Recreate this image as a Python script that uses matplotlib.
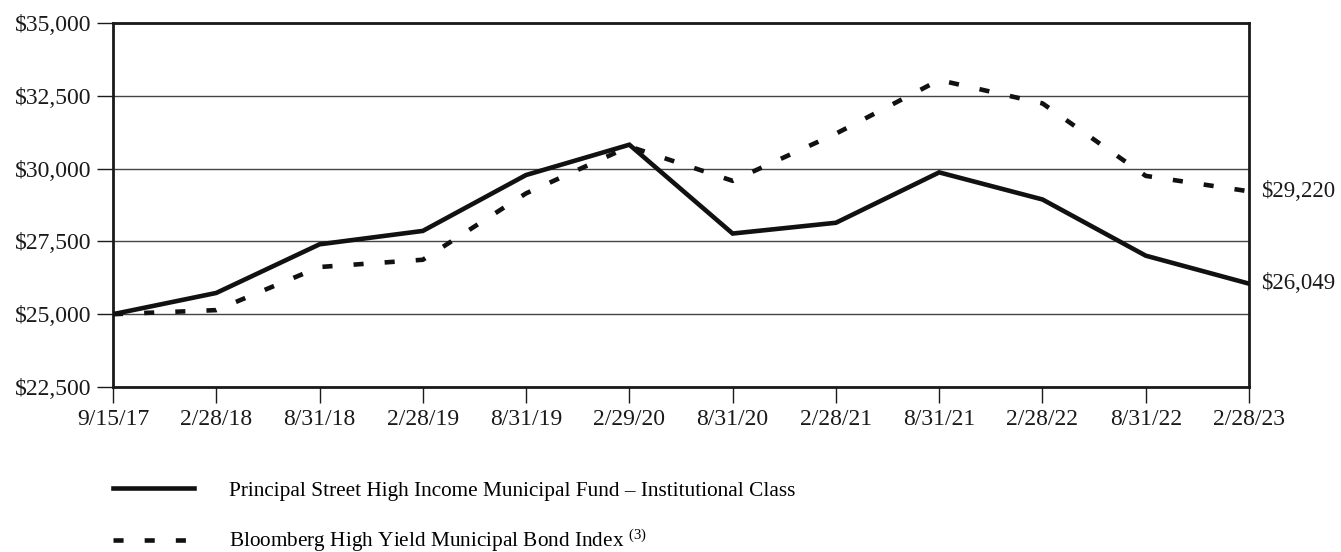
import matplotlib
matplotlib.use("Agg")
import matplotlib.pyplot as plt
from matplotlib.ticker import FuncFormatter

plt.rcParams['font.family'] = ['Liberation Serif', 'DejaVu Serif']
plt.rcParams['mathtext.fontset'] = 'custom'
plt.rcParams['mathtext.rm'] = 'Liberation Serif'
plt.rcParams['mathtext.it'] = 'Liberation Serif:italic'

dates = ["9/15/17", "2/28/18", "8/31/18", "2/28/19", "8/31/19", "2/29/20",
         "8/31/20", "2/28/21", "8/31/21", "2/28/22", "8/31/22", "2/28/23"]
fund = [25000, 25730, 27400, 27860, 29780, 30820,
        27770, 28140, 29870, 28940, 27010, 26049]
index = [25000, 25140, 26620, 26870, 29150, 30760,
         29580, 31200, 33040, 32240, 29750, 29220]
fund_label = "Principal Street High Income Municipal Fund \u2013 Institutional Class"
index_label = "Bloomberg High Yield Municipal Bond Index $^{(3)}$"
y_ticks = [22500, 25000, 27500, 30000, 32500, 35000]

fig = plt.figure(figsize=(13.41, 5.52), dpi=100)
ax = fig.add_axes([113/1341, 1-387/552, (1249-113)/1341, (387-23)/552])

x = list(range(len(dates)))
ax.yaxis.grid(True, color='#444444', linewidth=1.0)
ax.set_axisbelow(True)

l1, = ax.plot(x, fund, color='#111111', linewidth=3.3, solid_joinstyle='miter',
              label=fund_label, zorder=3)
l2, = ax.plot(x, index, color='#111111', linewidth=3.3, linestyle=(0, (2.2, 4.6)),
              dash_capstyle='butt', label=index_label, zorder=3)

ax.set_xlim(0, len(dates) - 1)
ax.set_ylim(y_ticks[0], y_ticks[-1])
ax.set_xticks(x)
ax.set_xticklabels(dates)
ax.set_yticks(y_ticks)
ax.yaxis.set_major_formatter(FuncFormatter(lambda v, p: f"${v:,.0f}"))
ax.tick_params(axis='both', direction='out', length=11.5, width=1.0,
               labelsize=17, color='#1a1a1a', labelcolor='#1a1a1a')
ax.tick_params(axis='x', pad=4)
ax.tick_params(axis='y', pad=4)
for s in ax.spines.values():
    s.set_linewidth(2.0)
    s.set_color('#1a1a1a')

for series in (fund, index):
    ax.annotate(f"${series[-1]:,.0f}", xy=(x[-1], series[-1]), xytext=(9, 0),
                textcoords='offset points', va='center', ha='left',
                fontsize=16.5, color='#1a1a1a', annotation_clip=False)

fig.legend(handles=[l1, l2], loc='upper left', bbox_to_anchor=(113/1341, 1-481/552),
           frameon=False, fontsize=15.3, handlelength=3.8, handletextpad=1.65,
           labelspacing=1.25, borderpad=0, borderaxespad=0)

fig.savefig("out.png", dpi=100, facecolor='white')
